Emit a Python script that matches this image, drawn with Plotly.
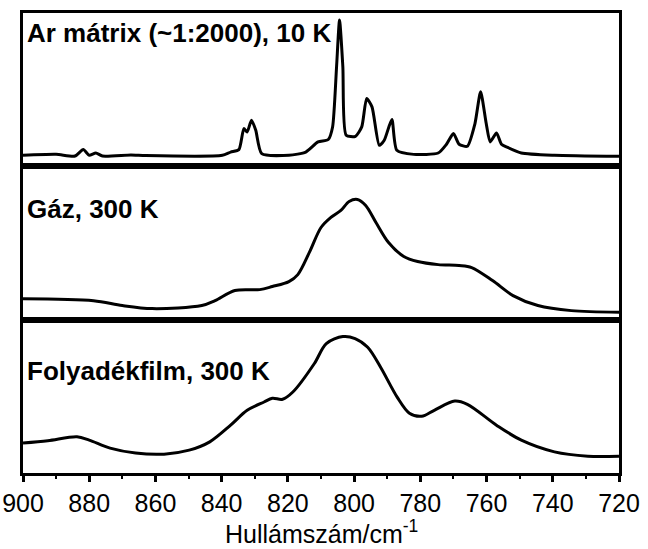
import plotly.graph_objects as go
from plotly.subplots import make_subplots

# ---- data (wavenumber / cm-1, absorbance in arbitrary units) ----
ar_wn = [900, 890, 884.3, 881.8, 880, 878, 876, 867.4, 863, 839.8, 837.3, 834.8, 833.3, 832.3, 831,
         829.7, 827.9, 819.7, 814.6, 810.9, 807.8, 806.5, 805.3, 804.4, 803.4, 802.4, 799.6, 797.7,
         796.2, 794.6, 792.4, 790.9, 788.6, 787.1, 782, 774.6, 772.1, 770, 768.3, 765.8, 763.5,
         761.8, 760.1, 758.9, 757, 755.5, 753.9, 749.5, 739.5, 720]
ar_abs = [0.072, 0.078, 0.067, 0.109, 0.072, 0.087, 0.067, 0.074, 0.070, 0.072, 0.093, 0.109, 0.246,
          0.224, 0.301, 0.235, 0.083, 0.072, 0.093, 0.159, 0.175, 0.257, 0.649, 0.954, 0.649, 0.203,
          0.196, 0.257, 0.442, 0.388, 0.137, 0.170, 0.305, 0.105, 0.078, 0.087, 0.144, 0.214, 0.144,
          0.131, 0.279, 0.486, 0.279, 0.159, 0.218, 0.144, 0.126, 0.087, 0.072, 0.065]

gas_wn = [900, 878.7, 870, 861, 846, 842, 836, 828.5, 824.7, 819.7, 817, 813.4, 810, 807, 804, 801.5,
          799, 796.5, 793.4, 789.6, 785, 780.8, 774.6, 768.3, 764.5, 758.2, 752, 744.5, 734.4, 720]
gas_abs = [0.137, 0.124, 0.092, 0.072, 0.092, 0.124, 0.190, 0.196, 0.216, 0.248, 0.294, 0.444, 0.601,
           0.667, 0.712, 0.771, 0.784, 0.745, 0.634, 0.503, 0.412, 0.379, 0.359, 0.353, 0.340, 0.255,
           0.157, 0.092, 0.059, 0.049]

liq_wn = [900, 892.5, 883.7, 880, 873.7, 866, 857.4, 849.8, 843.6, 837.3, 832.3, 827.2, 824.7, 821.6,
          818.5, 812, 808.4, 803.4, 799.7, 795.9, 792, 787, 783.3, 779.6, 775.8, 769.6, 765.8, 757,
          749.5, 739.5, 729.4, 720]
liq_abs = [0.195, 0.210, 0.236, 0.214, 0.162, 0.130, 0.123, 0.149, 0.203, 0.312, 0.409, 0.463, 0.487,
           0.481, 0.528, 0.714, 0.844, 0.890, 0.877, 0.820, 0.690, 0.495, 0.390, 0.370, 0.409, 0.469,
           0.448, 0.312, 0.214, 0.138, 0.110, 0.110]

panel_labels = ["Ar mátrix (~1:2000), 10 K", "Gáz, 300 K", "Folyadékfilm, 300 K"]
x_ticks = [900, 880, 860, 840, 820, 800, 780, 760, 740, 720]
x_title = "Hullámszám/cm<sup>-1</sup>"

FONT = "Liberation Sans, Arial, sans-serif"

fig = make_subplots(rows=3, cols=1, shared_xaxes=True, vertical_spacing=0)

series = [(ar_wn, ar_abs, 0.6), (gas_wn, gas_abs, 0.9), (liq_wn, liq_abs, 0.9)]
for i, (wx, wy, sm) in enumerate(series, start=1):
    fig.add_trace(go.Scatter(x=wx, y=wy, mode="lines",
                             line=dict(color="black", width=3, shape="spline", smoothing=sm),
                             showlegend=False, hoverinfo="skip"), row=i, col=1)

for i in range(1, 4):
    fig.update_yaxes(range=[0, 1], showticklabels=False, ticks="", showgrid=False, zeroline=False,
                     automargin=False,
                     showline=True, linecolor="black", linewidth=3, mirror=True, row=i, col=1)
    fig.update_xaxes(range=[900, 720], showgrid=False, zeroline=False, automargin=False,
                     showline=True, linecolor="black", linewidth=3, mirror=True, row=i, col=1)

fig.update_xaxes(ticks="outside", ticklen=6, tickwidth=2.5, tickcolor="black",
                 tickvals=x_ticks, ticktext=[str(t) for t in x_ticks],
                 tickfont=dict(family=FONT, size=25, color="black"),
                 ticklabeloverflow="allow",
                 minor=dict(ticks="outside", ticklen=3, tickwidth=2, tickcolor="black", dtick=10),
                 row=3, col=1)

# axis title
fig.add_annotation(text=x_title, xref="paper", yref="paper", x=0.5, y=-0.128,
                   xanchor="center", yanchor="middle", showarrow=False,
                   font=dict(family=FONT, size=25, color="black"))

label_y = [0.956, 0.575, 0.222]
for txt, yy in zip(panel_labels, label_y):
    fig.add_annotation(text=txt, xref="paper", yref="paper", x=0.004, y=yy,
                       xanchor="left", yanchor="middle", showarrow=False,
                       font=dict(family=FONT, size=26, color="black", weight="bold"))

fig.update_layout(width=648, height=549, margin=dict(l=23, r=29, t=13, b=76),
                  paper_bgcolor="white", plot_bgcolor="white")

# remove the browser's default 8px body margin so the figure fills the window
fig.write_html("out.html", config={"displayModeBar": False},
               post_script="document.body.style.margin='0';")
